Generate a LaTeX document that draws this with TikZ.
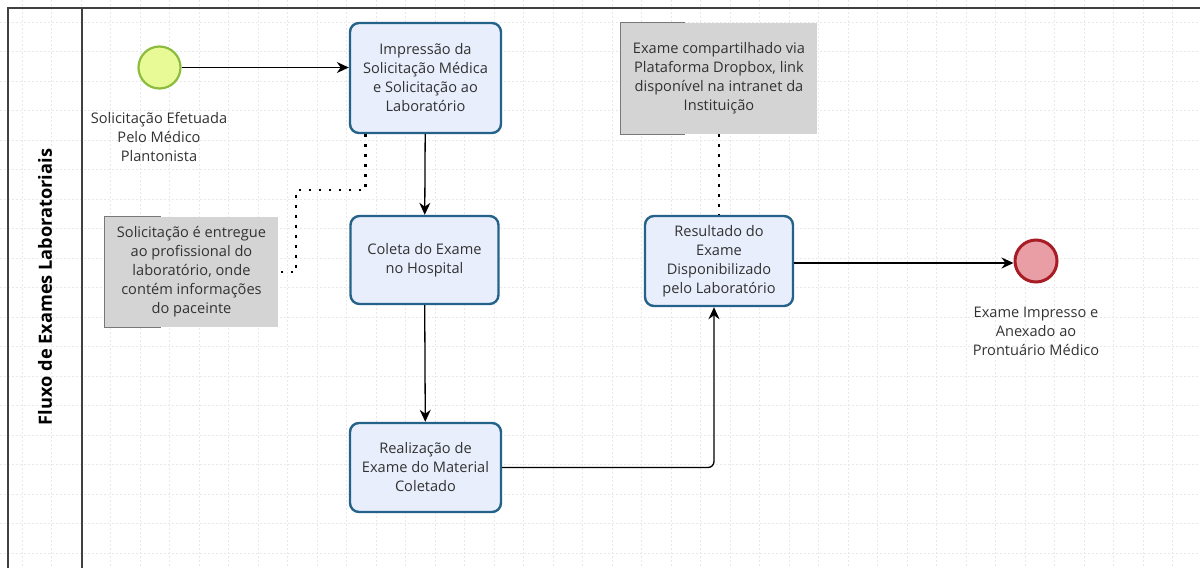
\documentclass[tikz,border=0pt]{standalone}
\usepackage{fontspec}
\setmainfont{Open Sans}
\usetikzlibrary{arrows.meta}

\definecolor{taskfill}{RGB}{232,238,252}
\definecolor{taskline}{RGB}{36,98,138}
\definecolor{startfill}{RGB}{232,250,150}
\definecolor{startline}{RGB}{140,188,62}
\definecolor{endfill}{RGB}{232,158,164}
\definecolor{endline}{RGB}{168,28,38}
\definecolor{notefill}{RGB}{212,212,212}
\definecolor{noteline}{RGB}{120,120,120}
\definecolor{txt}{RGB}{50,50,50}
\definecolor{gridgray}{RGB}{232,232,232}

\begin{document}
\begin{tikzpicture}[x=1pt, y=-1pt,
  every node/.style={text=txt, font=\fontsize{14.6}{19}\selectfont},
  task/.style={draw=taskline, fill=taskfill, line width=2.4pt, rounded corners=9pt, align=center, inner sep=0pt},
  note/.style={fill=notefill, align=center, inner sep=0pt},
  flow/.style={line width=1.3pt, -{Stealth[length=12pt,width=11pt]}},
  assoc/.style={line width=2.8pt, dash pattern=on 2.8pt off 7.2pt},
  gridline/.style={draw=gridgray, line width=0.8pt, dash pattern=on 2pt off 2pt},
  poolline/.style={draw=black!75, line width=1.8pt}]
\useasboundingbox (0,0) rectangle (1200,568);

% grid
\foreach \k in {0,...,39} \draw[gridline] ({22+29.5*\k},0) -- ({22+29.5*\k},568);
\foreach \k in {0,...,18} \draw[gridline] (0,{22+29.5*\k}) -- (1200,{22+29.5*\k});

% pool and lane
\draw[poolline] (1200,8) -- (8,8) -- (8,568);
\draw[poolline] (82,8) -- (82,568);
\node[rotate=90, font=\fontsize{18.2}{20}\selectfont\bfseries, text=black] (lane) at (45,287) {Fluxo de Exames Laboratoriais};

% events
\node[circle, draw=startline, fill=startfill, line width=2.2pt, minimum size=42pt, inner sep=0pt] (start) at (159.5,67.5) {};
\node[align=center] (startlabel) at (159,137) {Solicitação Efetuada\\Pelo Médico\\Plantonista};
\node[circle, draw=endline, fill=endfill, line width=3pt, minimum size=42pt, inner sep=0pt] (fim) at (1036,261) {};
\node[align=center] (fimlabel) at (1036,331) {Exame Impresso e\\Anexado ao\\Prontuário Médico};

% tasks
\node[task, minimum width=151pt, minimum height=110pt] (impressao) at (425.5,78) {Impressão da\\Solicitação Médica\\e Solicitação ao\\Laboratório};
\node[task, minimum width=148pt, minimum height=88pt] (coleta) at (424.5,260) {Coleta do Exame\\no Hospital};
\node[task, minimum width=151pt, minimum height=89pt] (realizacao) at (425.5,467.5) {Realização de\\Exame do Material\\Coletado};
\node[task, minimum width=148pt, minimum height=90pt] (resultado) at (719,261) {Resultado do\\Exame\\Disponibilizado\\pelo Laboratório};

% annotations
\node[note, minimum width=173pt, minimum height=110pt] (notaEntrega) at (191.5,272) {Solicitação é entregue\\ao profissional do\\laboratório, onde\\contém informações\\do paceinte};
\node[note, minimum width=196pt, minimum height=111pt] (notaDropbox) at (719,78.5) {Exame compartilhado via\\Plataforma Dropbox, link\\disponível na intranet da\\Instituição};
\draw[noteline, line width=1.2pt] ([xshift=56pt]notaEntrega.north west) -- (notaEntrega.north west) -- (notaEntrega.south west) -- ([xshift=56pt]notaEntrega.south west);
\draw[noteline, line width=1.2pt] ([xshift=64pt]notaDropbox.north west) -- (notaDropbox.north west) -- (notaDropbox.south west) -- ([xshift=64pt]notaDropbox.south west);

% sequence flows
\draw[flow] (start) -- (start -| impressao.west);
\draw[flow] (impressao) -- (coleta);
\draw[flow] (coleta) -- (realizacao);
\draw[flow, rounded corners=6pt] (realizacao.east) -| ([xshift=-5pt]resultado.south);
\draw[flow] (resultado.east |- 0,263) -- (fim.west |- 0,263);

% associations
\coordinate (dobra) at (296,190);
\draw[assoc] ([xshift=-60pt]impressao.south) |- (dobra) |- (notaEntrega.east);
\draw[assoc] (notaDropbox) -- (resultado);
\end{tikzpicture}
\end{document}
